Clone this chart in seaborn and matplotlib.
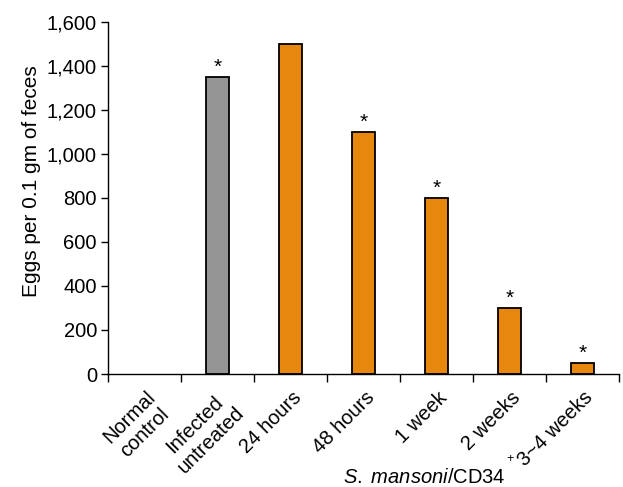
import pandas as pd
import matplotlib.pyplot as plt
import matplotlib.transforms as mtransforms
import seaborn as sns
from matplotlib.ticker import FuncFormatter, FixedLocator

# data
groups = ["Normal\ncontrol", "Infected\nuntreated", "24 hours", "48 hours",
          "1 week", "2 weeks", "3~4 weeks"]
eggs = [0, 1350, 1500, 1100, 800, 300, 50]
significant = [False, True, False, True, True, True, True]
bar_colors = ["#959595", "#959595", "#E8870E", "#E8870E", "#E8870E", "#E8870E", "#E8870E"]

sns.set_theme(style="ticks")
plt.rcParams['font.family'] = ['Liberation Sans', 'DejaVu Sans']
plt.rcParams['mathtext.fontset'] = 'custom'
plt.rcParams['mathtext.rm'] = 'Liberation Sans'
plt.rcParams['mathtext.it'] = 'Liberation Sans:italic'
plt.rcParams['text.color'] = 'black'
plt.rcParams['axes.labelcolor'] = 'black'

df = pd.DataFrame({"group": groups, "eggs": eggs})

fig = plt.figure(figsize=(6.23, 4.87), dpi=100)
ax = fig.add_axes([0.1734, 0.232, 0.8202, 0.7234])

sns.barplot(data=df, x="group", y="eggs", hue="group", palette=bar_colors,
            width=0.32, edgecolor="black", linewidth=1.3, saturation=1,
            legend=False, ax=ax)
for p in ax.patches:
    if p.get_height() == 0:
        p.set_visible(False)

# significance stars
for i, (v, s) in enumerate(zip(eggs, significant)):
    if s:
        ax.text(i, v, "*", ha="center", va="bottom", fontsize=15, color="black")

ax.set_xlim(-0.5, len(groups) - 0.5)
ax.set_ylim(0, 1600)
ax.set_yticks(range(0, 1601, 200))
ax.yaxis.set_major_formatter(FuncFormatter(lambda v, p: f"{int(v):,}"))
ax.tick_params(axis="y", labelsize=14.5, length=5, width=1, direction="out",
               colors="black", pad=3)

# category labels without tick marks, tick marks at the boundaries
ax.set_xticks(range(len(groups)))
ax.set_xticklabels(groups, rotation=45, ha="right", va="top",
                   rotation_mode="anchor", fontsize=14.5, multialignment="center")
ax.tick_params(axis="x", length=0, pad=10, colors="black")
shift = mtransforms.ScaledTranslation(1 / 100, 0, fig.dpi_scale_trans)
for lab in ax.get_xticklabels():
    lab.set_transform(lab.get_transform() + shift)
ax.xaxis.set_minor_locator(FixedLocator([i - 0.5 for i in range(len(groups) + 1)]))
ax.tick_params(axis="x", which="minor", length=6, width=1, color="black")

ax.set_xlabel("")
ax.set_ylabel("Eggs per 0.1 gm of feces", fontsize=15)
ax.yaxis.set_label_coords(-0.131, 0.548)

for side in ["top", "right"]:
    ax.spines[side].set_visible(False)
for side in ["left", "bottom"]:
    ax.spines[side].set_linewidth(1)
    ax.spines[side].set_color("black")

# group caption under the treated bars, with a small raised "+"
cap = fig.text(424.5 / 623, 4 / 487, r"$\it{S.\ mansoni}$/CD34", ha="center",
               va="baseline", fontsize=14.5)
fig.canvas.draw()
bb = cap.get_window_extent()
fig.text((bb.x1 + 1) / 623, 25 / 487, "+", ha="left", va="baseline", fontsize=9)

fig.savefig("out.png", dpi=100)
